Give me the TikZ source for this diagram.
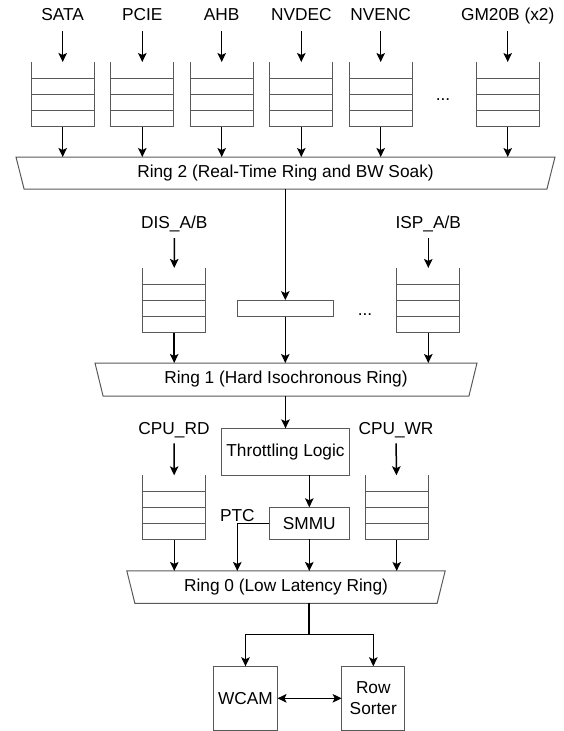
\documentclass[tikz,border=0pt]{standalone}
\usepackage{fontspec}
\setmainfont{Liberation Sans}
\usetikzlibrary{arrows.meta,positioning,calc,shapes.geometric}
\tikzset{
  src/.style={inner sep=0pt, text height=12.4pt, text depth=0pt},
  fifo/.style={minimum width=63pt, minimum height=64pt, inner sep=0pt, outer sep=0pt},
  fifoline/.style={draw=black!65, line width=1pt},
  box/.style={draw=black!65, line width=1pt, inner sep=0pt, outer sep=0pt, align=center},
  ring/.style={trapezium, trapezium angle=63.4, trapezium stretches body, shape border rotate=180,
    draw=black!65, line width=1pt, inner sep=0pt, outer sep=0pt, minimum height=32pt},
  flow/.style={-{Stealth[length=9pt,width=8.5pt,inset=2pt]}, line width=1.5pt},
  both/.style={{Stealth[length=9pt,width=8.5pt,inset=2pt]}-{Stealth[length=9pt,width=8.5pt,inset=2pt]}, line width=1.5pt},
  feed/.style={flow, shorten <=9pt},
  wire/.style={line width=1.5pt},
}

\begin{document}
\begin{tikzpicture}[x=1pt, y=-1pt, font=\fontsize{17.3}{21}\selectfont]
  \useasboundingbox (0,0) rectangle (564,731);
  % Ring 2 clients
  \foreach \n/\x/\t in {sata/62.7/SATA, pcie/142.3/PCIE, ahb/221.7/AHB, nvdec/301.3/NVDEC, nvenc/380.7/NVENC, gpu/507.7/GM20B (x2)} {
    \node[src] (\n) at (\x,14) {\t};
    \node[fifo] (q\n) at (\x,94) {};
    \draw[feed, shorten <=10.7pt] (\n) -- (q\n);
  }
  \node (dots2) at (443,100) {...};
  \node[ring, minimum width=539pt] (ring2) at (285.5,173) {Ring 2 (Real-Time Ring and BW Soak)};
  \foreach \n in {sata,pcie,ahb,nvdec,nvenc,gpu} \draw[flow] (q\n) -- (q\n |- ring2.north);

  % Ring 1 clients
  \node[src] (dis) at (174.3,222.7) {DIS\_A/B};
  \node[fifo, minimum height=64.7pt] (qdis) at (174.2,300.3) {};
  \node[src] (isp) at (428.3,222.7) {ISP\_A/B};
  \node[fifo, minimum height=64.7pt] (qisp) at (428.3,300.3) {};
  \node[box, minimum width=96pt, minimum height=16.7pt] (buf) at (285.3,308.5) {};
  \node (dots1) at (365,315) {...};
  \draw[feed] (dis) -- (qdis);
  \draw[feed] (isp) -- (qisp);
  \draw[flow] (ring2.south -| buf) -- (buf);
  \node[ring, minimum width=382pt, minimum height=33pt] (ring1) at (286,379.5) {Ring 1 (Hard Isochronous Ring)};
  \foreach \n in {qdis,buf,qisp} \draw[flow] (\n) -- (\n |- ring1.north);

  % Ring 0 clients
  \node[box, minimum width=127.6pt, minimum height=46.7pt] (throttle) at (285.5,451.7) {Throttling Logic};
  \draw[flow] (ring1.south -| throttle) -- (throttle);
  \node[box, minimum width=80pt, minimum height=32pt] (smmu) at (309.3,523.3) {SMMU};
  \draw[flow] (throttle.south -| smmu) -- (smmu);
  \node[src] (rd) at (174,428) {CPU\_RD};
  \node[fifo] (qrd) at (174.3,507.3) {};
  \node[src] (wr) at (396,428) {CPU\_WR};
  \node[fifo] (qwr) at (396.7,507.3) {};
  \draw[feed] (rd) -- (qrd);
  \draw[feed] (wr) -- (qwr);
  \node[src] (ptc) at (237.3,515) {PTC};
  \node[ring, minimum width=318.3pt, minimum height=32.5pt] (ring0) at (286,587.2) {Ring 0 (Low Latency Ring)};
  \draw[flow] (smmu.west) -| (ptc |- ring0.north);
  \foreach \n in {qrd,smmu,qwr} \draw[flow] (\n) -- (\n |- ring0.north);

  % queue slots
  \foreach \q in {qsata,qpcie,qahb,qnvdec,qnvenc,qgpu,qdis,qisp,qrd,qwr} {
    \draw[fifoline] (\q.north west) -- (\q.south west) -- (\q.south east) -- (\q.north east);
    \foreach \k in {1,2,3}
      \draw[fifoline] ($(\q.north west)!\k/4!(\q.south west)$) -- ($(\q.north east)!\k/4!(\q.south east)$);
  }

  % memory controller
  \coordinate (fork) at (309,634.3);
  \node[box, minimum size=64pt] (wcam) at (245.5,698.3) {WCAM};
  \node[box, minimum width=63.3pt, minimum height=64pt] (sorter) at (373.3,698.3) {Row\\Sorter};
  \draw[wire] (ring0.south -| fork) -- (fork);
  \draw[flow] (fork) -| (wcam);
  \draw[flow] (fork) -| (sorter);
  \draw[both] (wcam) -- (sorter);
\end{tikzpicture}
\end{document}
